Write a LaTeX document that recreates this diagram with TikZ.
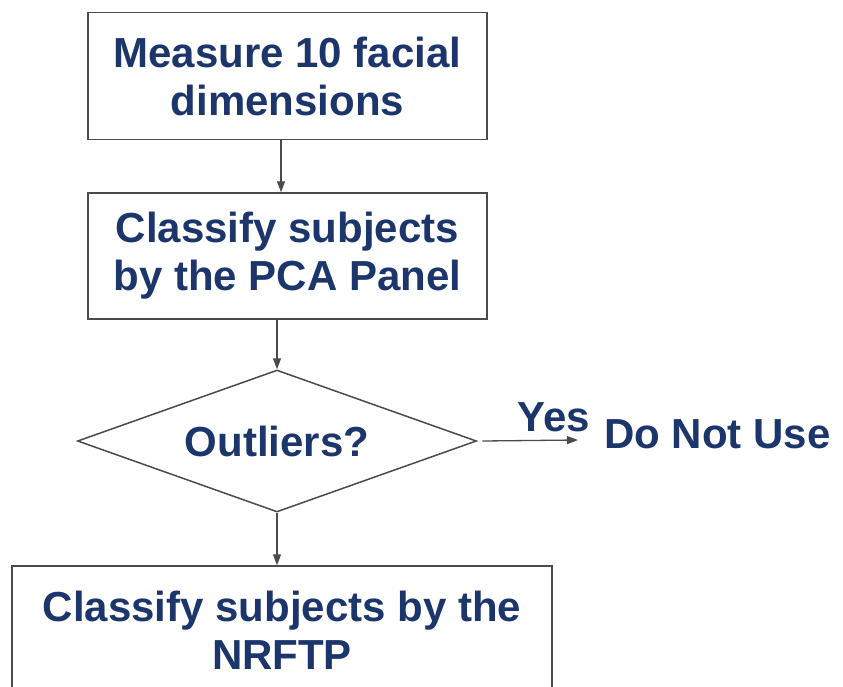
\documentclass[tikz,border=0pt]{standalone}
\usepackage{fontspec}
\setmainfont{Liberation Sans}
\usetikzlibrary{shapes.geometric,arrows.meta}
\definecolor{navy}{RGB}{28,54,108}
\definecolor{edgegray}{RGB}{75,75,75}
\begin{document}
\begin{tikzpicture}[x=1pt,y=-1pt,
  label text/.style={font=\fontsize{42}{48}\selectfont\bfseries, text=navy},
  stepbox/.style={label text, draw=edgegray, line width=1.5pt, align=center, inner sep=0pt},
  decision/.style={label text, draw=edgegray, line width=1.5pt, diamond, inner sep=0pt,
    aspect=2.8, minimum width=399pt, minimum height=142pt},
  arr/.style={draw=edgegray, line width=1.3pt, -{Triangle[length=11pt,width=8pt]}}]
  \useasboundingbox (0,0) rectangle (843,686);
  \fill[white] (0,0) rectangle (843,686);

  % process steps
  \node[stepbox, minimum width=399pt, minimum height=127pt] (b1) at (287.5,76)
    {Measure 10 facial\\dimensions};
  \node[stepbox, minimum width=399pt, minimum height=126pt] (b2) at (287.5,256)
    {Classify subjects\\by the PCA Panel};
  \node[decision] (d) at (277,441) {Outliers?};
  \node[stepbox, minimum width=540pt, minimum height=128pt] (b3) at (282,630)
    {Classify subjects by the\\NRFTP};

  % rejected branch
  \node[label text, anchor=base west, inner sep=0pt] (dnu) at (604,448) {Do Not Use};
  \node[label text, anchor=base, inner sep=0pt] (yes) at (554,431) {Yes};
  \coordinate (yesend) at (578,440);
  \coordinate (spine) at (281,0);

  % connectors
  \draw[arr] (b1.south -| spine) -- (b2.north -| spine);
  \draw[arr] (b2.south -| d.north) -- (d.north);
  \draw[arr] (d.south) -- (b3.north -| d.south);
  \draw[arr] ([xshift=5pt]d.east) -- (yesend);
\end{tikzpicture}
\end{document}
